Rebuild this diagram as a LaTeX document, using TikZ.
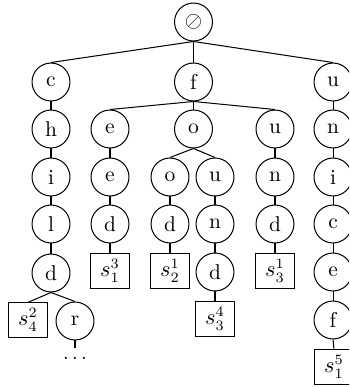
\documentclass[tikz,border=0pt]{standalone}
\usepackage{amssymb}
\begin{document}
\begin{tikzpicture}[x=0.49pt,y=-0.49pt,
  circ/.style={circle,draw,line width=0.5pt,minimum size=18.6pt,inner sep=0pt,font=\fontsize{10.5}{12}\selectfont},
  leaf/.style={rectangle,draw,line width=0.5pt,minimum width=19.5pt,minimum height=16.8pt,inner sep=0pt,font=\fontsize{10.5}{12}\selectfont},
  plain/.style={inner sep=0pt,text height=5.5pt},
  link/.style={line width=0.5pt}]
\clip (0,0) rectangle (349,387);
\useasboundingbox (0,0) rectangle (349,387);
% root
\node[circ] (root) at (193.5,22) {$\oslash$};
% row 1
\node[circ] (c1) at (51,82) {c};
\node[circ] (f1) at (193.5,82) {f};
\node[circ] (u1) at (333,82) {u};
% row 2
\node[circ] (h2) at (51,129) {h};
\node[circ] (e2) at (110,129) {e};
\node[circ] (o2) at (193.5,129) {o};
\node[circ] (u2) at (275,129) {u};
\node[circ] (n2) at (333,129) {n};
% row 3
\node[circ] (i3) at (51,177) {i};
\node[circ] (e3) at (110,177) {e};
\node[circ] (o3) at (170,177) {o};
\node[circ] (u3) at (215,177) {u};
\node[circ] (n3) at (275,177) {n};
\node[circ] (ii3) at (333,177) {i};
% row 4
\node[circ] (l4) at (51,224) {l};
\node[circ] (d4a) at (110,224) {d};
\node[circ] (d4b) at (170,224) {d};
\node[circ] (n4) at (215,224) {n};
\node[circ] (d4c) at (275,224) {d};
\node[circ] (c4) at (333,224) {c};
% row 5
\node[circ] (d5) at (51,273) {d};
\node[leaf] (s13) at (110,271) {$s_1^3$};
\node[leaf] (s21) at (170,271) {$s_2^1$};
\node[circ] (d5b) at (215,272) {d};
\node[leaf] (s31) at (275,271) {$s_3^1$};
\node[circ] (e5) at (333,272) {e};
% row 6
\node[leaf] (s42) at (28,320) {$s_4^2$};
\node[circ] (r6) at (75,321) {r};
\node[leaf] (s34) at (215,319) {$s_3^4$};
\node[circ] (f6) at (333,320) {f};
% row 7
\node[leaf] (s15) at (334,367) {$s_1^5$};
\node[plain,anchor=north] (dots) at (75,348) {$\ldots$};
% edges
\draw[link] (root.south) -- (c1.north);
\draw[link] (root.south) -- (f1.north);
\draw[link] (root.south) -- (u1.north);
\draw[link] (c1.south) -- (h2.north);
\draw[link] (h2.south) -- (i3.north);
\draw[link] (i3.south) -- (l4.north);
\draw[link] (l4.south) -- (d5.north);
\draw[link] (d5.south) -- (s42.north);
\draw[link] (d5.south) -- (r6.north);
\draw[link] (r6.south) -- (dots.north);
\draw[link] (f1.south) -- (e2.north);
\draw[link] (f1.south) -- (o2.north);
\draw[link] (f1.south) -- (u2.north);
\draw[link] (e2.south) -- (e3.north);
\draw[link] (e3.south) -- (d4a.north);
\draw[link] (d4a.south) -- (s13.north);
\draw[link] (o2.south) -- (o3.north);
\draw[link] (o2.south) -- (u3.north);
\draw[link] (o3.south) -- (d4b.north);
\draw[link] (d4b.south) -- (s21.north);
\draw[link] (u3.south) -- (n4.north);
\draw[link] (n4.south) -- (d5b.north);
\draw[link] (d5b.south) -- (s34.north);
\draw[link] (u2.south) -- (n3.north);
\draw[link] (n3.south) -- (d4c.north);
\draw[link] (d4c.south) -- (s31.north);
\draw[link] (u1.south) -- (n2.north);
\draw[link] (n2.south) -- (ii3.north);
\draw[link] (ii3.south) -- (c4.north);
\draw[link] (c4.south) -- (e5.north);
\draw[link] (e5.south) -- (f6.north);
\draw[link] (f6.south) -- (s15.north);
\end{tikzpicture}
\end{document}
